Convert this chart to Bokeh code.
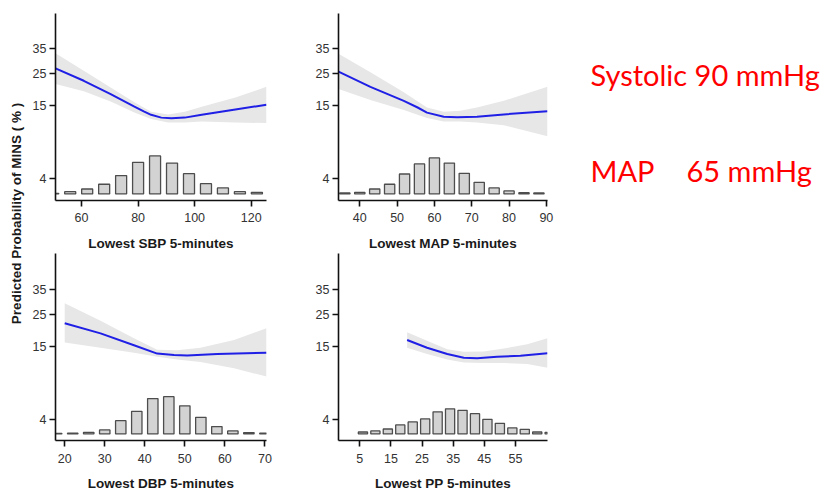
import numpy as np
from bokeh.plotting import figure
from bokeh.layouts import row, column
from bokeh.models import Range1d, FixedTicker, CustomJSTickFormatter, Label
from bokeh.embed import file_html
from bokeh.resources import INLINE

# ---------------- data ----------------
y_tick_pct = [4, 15, 25, 35]

# SBP
sbp_ticks = [60, 80, 100, 120]
sbp_curve_x = [50.8, 60.8, 70.3, 78.7, 82.0, 84.6, 88.2, 91.8, 96.5, 102.5, 114.4, 125.4]
sbp_curve_y = [26.8, 22.3, 18.1, 14.7, 13.6, 12.8, 12.2, 12.07, 12.2, 12.8, 14.0, 15.2]
sbp_band_x = [50.8, 60.8, 70.3, 78.7, 84.6, 90.6, 96.5, 102.5, 114.4, 125.4]
sbp_band_hi = [33.0, 25.9, 20.1, 15.8, 13.5, 12.9, 13.5, 14.7, 17.1, 20.3]
sbp_band_lo = [21.2, 18.9, 16.0, 13.3, 11.9, 11.2, 11.2, 11.4, 11.2, 11.1]
sbp_bins = [50, 56, 62, 68, 74, 80, 86, 92, 98, 104, 110, 116, 122]
sbp_pct = [0.3, 1.3, 2.8, 5.5, 10.4, 17.9, 21.5, 17.5, 11.5, 5.8, 3.4, 1.3, 0.9]

# MAP
map_ticks = [40, 50, 60, 70, 80, 90]
map_curve_x = [34.3, 42.85, 51.8, 55.5, 58.0, 62.5, 66.1, 71.4, 78.6, 90.3]
map_curve_y = [25.6, 20.3, 16.2, 14.5, 13.3, 12.4, 12.3, 12.4, 12.9, 13.6]
map_band_x = [34.3, 42.85, 51.8, 58.0, 62.5, 66.9, 71.4, 78.6, 90.3]
map_band_hi = [32.8, 25.3, 18.6, 14.5, 13.5, 13.7, 14.5, 16.2, 20.3]
map_band_lo = [19.6, 16.4, 13.9, 12.1, 11.4, 11.4, 11.2, 10.7, 8.8]
map_bins = [36, 40, 44, 48, 52, 56, 60, 64, 68, 72, 76, 80, 84, 88]
map_pct = [0.6, 0.9, 2.8, 5.5, 11.3, 17.0, 20.4, 17.5, 11.7, 6.6, 3.4, 1.7, 0.75, 0.6]

# DBP
dbp_ticks = [20, 30, 40, 50, 60, 70]
dbp_curve_x = [20.0, 28.95, 37.3, 43.1, 47.3, 50.6, 58.1, 70.4]
dbp_curve_y = [21.8, 18.6, 15.3, 13.3, 13.0, 12.9, 13.2, 13.5]
dbp_band_x = [20.0, 28.95, 37.3, 43.1, 48.1, 53.9, 62.3, 70.4]
dbp_band_hi = [29.2, 22.7, 17.2, 14.2, 14.1, 14.7, 16.7, 20.2]
dbp_band_lo = [16.0, 14.7, 13.5, 12.6, 12.0, 11.5, 10.3, 8.9]
dbp_bins = [18, 22, 26, 30, 34, 38, 42, 46, 50, 54, 58, 62, 66, 70]
dbp_pct = [0.3, 0.4, 0.9, 2.3, 7.5, 12.8, 20.0, 21.1, 15.9, 9.4, 4.2, 1.7, 0.8, 0.4]

# PP
pp_ticks = [5, 15, 25, 35, 45, 55]
pp_curve_x = [20.2, 26.6, 33.1, 38.4, 42.7, 49.1, 56.6, 65.3]
pp_curve_y = [16.7, 14.7, 13.2, 12.4, 12.3, 12.6, 12.8, 13.4]
pp_band_x = [20.2, 26.6, 33.1, 38.4, 44.8, 51.3, 58.8, 65.3]
pp_band_hi = [18.9, 16.5, 14.3, 13.7, 13.8, 14.5, 15.6, 17.2]
pp_band_lo = [14.7, 13.2, 12.0, 11.4, 11.3, 11.3, 11.1, 10.4]
pp_bins = [6, 10, 14, 18, 22, 26, 30, 34, 38, 42, 46, 50, 54, 58, 62, 66]
pp_pct = [1.1, 1.7, 2.8, 5.1, 6.8, 8.5, 12.5, 14.2, 13.4, 11.5, 8.3, 6.0, 3.4, 2.6, 1.1, 0.9]

x_titles = ["Lowest SBP 5-minutes", "Lowest MAP 5-minutes",
            "Lowest DBP 5-minutes", "Lowest PP 5-minutes"]
y_title = "Predicted Probability of MINS ( % )"
note_sys = "Systolic 90 mmHg"
note_map = "MAP"
note_map_val = "65 mmHg"

# ---------------- helpers ----------------
def logit_pct(p):
    q = np.asarray(p, dtype=float) / 100.0
    return np.log(q / (1.0 - q))

FONT = "Liberation Sans"
TICK_COLOR = "#333333"


def panel(xr, yr, ticks, cx, cy, bx, bhi, blo, bins, pct, bar_w, title,
          ml, mr, mt, mb, fw, tick_standoff, title_standoff):
    p = figure(frame_width=fw, frame_height=187,
               min_border_left=ml, min_border_right=mr,
               min_border_top=mt, min_border_bottom=mb,
               x_range=Range1d(*xr), y_range=Range1d(*yr),
               output_backend="svg", toolbar_location=None)
    p.extra_y_ranges = {"hist": Range1d(-3.7, 102.1)}
    p.grid.visible = False
    p.outline_line_color = None
    p.background_fill_color = "white"
    p.border_fill_color = "white"

    p.varea(x=bx, y1=logit_pct(blo), y2=logit_pct(bhi), fill_color="#e7e7e7")
    p.line(x=cx, y=logit_pct(cy), line_color="#1f1fe6", line_width=2)
    p.vbar(x=bins, width=bar_w, top=pct, bottom=0, y_range_name="hist",
           fill_color="#d3d3d3", line_color="#4d4d4d", line_width=1.3)

    p.xaxis.ticker = FixedTicker(ticks=ticks)
    p.yaxis.ticker = FixedTicker(ticks=list(logit_pct(y_tick_pct)))
    p.yaxis.formatter = CustomJSTickFormatter(
        code="return String(Math.round(100/(1+Math.exp(-tick))));")
    for ax in (p.xaxis[0], p.yaxis[0]):
        ax.axis_line_color = "#111111"
        ax.axis_line_width = 1.6
        ax.major_tick_line_color = "#111111"
        ax.major_tick_line_width = 1.6
        ax.major_tick_out = 6
        ax.major_tick_in = 0
        ax.minor_tick_out = 0
        ax.minor_tick_in = 0
        ax.major_label_text_font = FONT
        ax.major_label_text_font_size = "12.5px"
        ax.major_label_text_color = TICK_COLOR
    p.yaxis.major_label_standoff = 3
    p.xaxis.major_label_standoff = tick_standoff
    p.xaxis.axis_label = title
    p.xaxis.axis_label_text_font = FONT
    p.xaxis.axis_label_text_font_style = "bold"
    p.xaxis.axis_label_text_font_size = "13.5px"
    p.xaxis.axis_label_text_color = "#1a1a1a"
    p.xaxis.axis_label_standoff = title_standoff
    return p


YR_TOP = (-3.605, 0.076)
YR_BOT = (-3.585, 0.096)

p1 = panel((50.8, 125.4), YR_TOP, sbp_ticks, sbp_curve_x, sbp_curve_y, sbp_band_x,
           sbp_band_hi, sbp_band_lo, sbp_bins, sbp_pct, 3.9, x_titles[0],
           27, 10, 13, 53, 211, 6, 11)
p2 = panel((34.3, 90.3), YR_TOP, map_ticks, map_curve_x, map_curve_y, map_band_x,
           map_band_hi, map_band_lo, map_bins, map_pct, 2.75, x_titles[1],
           62, 10, 13, 53, 209, 6, 11)
p3 = panel((17.7, 70.4), YR_BOT, dbp_ticks, dbp_curve_x, dbp_curve_y, dbp_band_x,
           dbp_band_hi, dbp_band_lo, dbp_bins, dbp_pct, 2.6, x_titles[2],
           27, 10, 0, 52, 211, 7, 10)
p4 = panel((-1.85, 65.3), YR_BOT, pp_ticks, pp_curve_x, pp_curve_y, pp_band_x,
           pp_band_hi, pp_band_lo, pp_bins, pp_pct, 2.95, x_titles[3],
           62, 10, 0, 52, 209, 7, 10)

# left strip with the shared y-axis title
L_H = 492
L = figure(frame_width=28, frame_height=L_H, min_border=0,
           x_range=Range1d(0, 28), y_range=Range1d(0, L_H),
           x_axis_location=None, y_axis_location=None,
           output_backend="svg", toolbar_location=None)
L.grid.visible = False
L.outline_line_color = None
L.add_layout(Label(x=16, y=L_H - 213, text=y_title, angle=np.pi / 2,
                   text_align="center", text_baseline="middle",
                   text_font=FONT, text_font_style="bold",
                   text_font_size="13.5px", text_color="#1a1a1a"))

# right area with the red notes
R_H = 253
R = figure(frame_width=265, frame_height=R_H, min_border=0,
           x_range=Range1d(0, 265), y_range=Range1d(0, R_H),
           x_axis_location=None, y_axis_location=None,
           output_backend="svg", toolbar_location=None)
R.grid.visible = False
R.outline_line_color = None
for txt, x, y in [(note_sys, 33, R_H - 61), (note_map, 33, R_H - 157),
                  (note_map_val, 129, R_H - 157)]:
    R.add_layout(Label(x=x, y=y, text=txt, text_align="left", text_baseline="alphabetic",
                       text_font="Lato", text_font_size="29px",
                       text_color="#ff0000"))

layout = row(L, column(row(p1, p2, R), row(p3, p4)))

open("out.html", "w").write(file_html(layout, INLINE))
